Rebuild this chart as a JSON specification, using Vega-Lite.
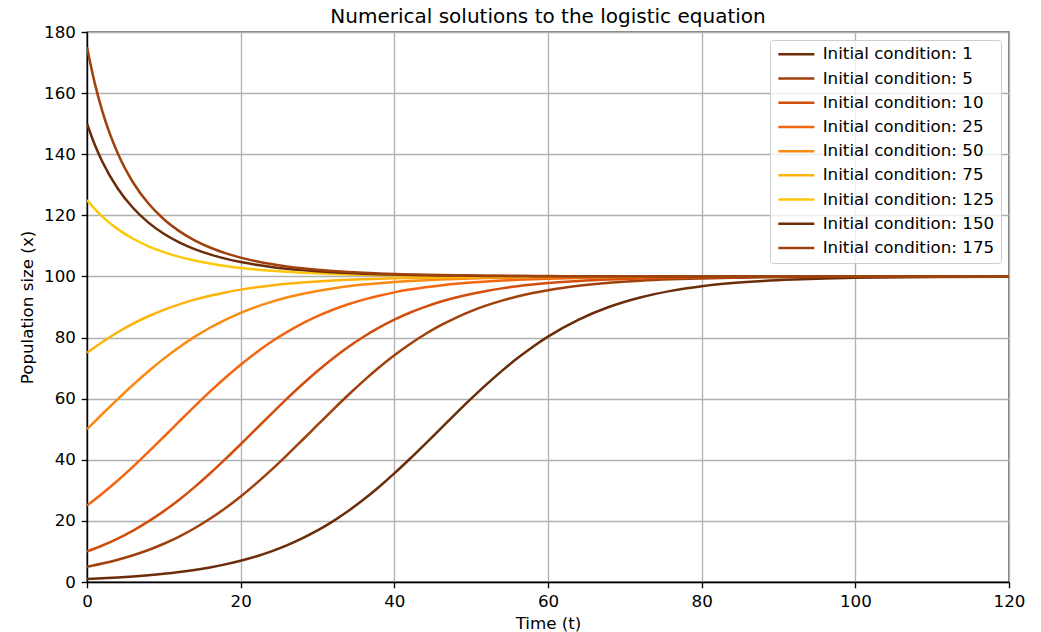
{
  "$schema": "https://vega.github.io/schema/vega-lite/v6.json",
  "width": 922,
  "height": 550,
  "autosize": {"type": "none"},
  "padding": {"left": 87, "top": 32, "right": 32, "bottom": 50},
  "title": {
    "text": "Numerical solutions to the logistic equation",
    "font": "DejaVu Sans",
    "fontSize": 20,
    "fontWeight": "normal",
    "color": "black",
    "offset": -3
  },
  "data": {
    "values": [
      {"ic":1,"t":0,"x":1},{"ic":1,"t":2,"x":1.219},{"ic":1,"t":4,"x":1.484},{"ic":1,"t":6,"x":1.807},{"ic":1,"t":8,"x":2.199},{"ic":1,"t":10,"x":2.672},{"ic":1,"t":12,"x":3.245},{"ic":1,"t":14,"x":3.935},{"ic":1,"t":16,"x":4.765},{"ic":1,"t":18,"x":5.759},{"ic":1,"t":20,"x":6.945},{"ic":1,"t":22,"x":8.355},{"ic":1,"t":24,"x":10.019},{"ic":1,"t":26,"x":11.972},{"ic":1,"t":28,"x":14.245},{"ic":1,"t":30,"x":16.866},{"ic":1,"t":32,"x":19.859},{"ic":1,"t":34,"x":23.235},{"ic":1,"t":36,"x":26.99},{"ic":1,"t":38,"x":31.107},{"ic":1,"t":40,"x":35.546},{"ic":1,"t":42,"x":40.248},{"ic":1,"t":44,"x":45.138},{"ic":1,"t":46,"x":50.122},{"ic":1,"t":48,"x":55.103},{"ic":1,"t":50,"x":59.986},{"ic":1,"t":52,"x":64.675},{"ic":1,"t":54,"x":69.1},{"ic":1,"t":56,"x":73.201},{"ic":1,"t":58,"x":76.936},{"ic":1,"t":60,"x":80.294},{"ic":1,"t":64,"x":85.874},{"ic":1,"t":68,"x":90.069},{"ic":1,"t":72,"x":93.118},{"ic":1,"t":76,"x":95.28},{"ic":1,"t":80,"x":96.786},{"ic":1,"t":84,"x":97.822},{"ic":1,"t":88,"x":98.53},{"ic":1,"t":92,"x":99.01},{"ic":1,"t":96,"x":99.334},{"ic":1,"t":100,"x":99.552},{"ic":1,"t":110,"x":99.835},{"ic":1,"t":120,"x":99.939},

      {"ic":5,"t":0,"x":5},{"ic":5,"t":2,"x":6.04},{"ic":5,"t":4,"x":7.28},{"ic":5,"t":6,"x":8.751},{"ic":5,"t":8,"x":10.485},{"ic":5,"t":10,"x":12.516},{"ic":5,"t":12,"x":14.875},{"ic":5,"t":14,"x":17.589},{"ic":5,"t":16,"x":20.678},{"ic":5,"t":18,"x":24.151},{"ic":5,"t":20,"x":28},{"ic":5,"t":22,"x":32.204},{"ic":5,"t":24,"x":36.716},{"ic":5,"t":26,"x":41.473},{"ic":5,"t":28,"x":46.395},{"ic":5,"t":30,"x":51.389},{"ic":5,"t":32,"x":56.355},{"ic":5,"t":34,"x":61.196},{"ic":5,"t":36,"x":65.826},{"ic":5,"t":38,"x":70.173},{"ic":5,"t":40,"x":74.184},{"ic":5,"t":42,"x":77.825},{"ic":5,"t":44,"x":81.086},{"ic":5,"t":46,"x":83.964},{"ic":5,"t":48,"x":86.477},{"ic":5,"t":50,"x":88.65},{"ic":5,"t":52,"x":90.513},{"ic":5,"t":54,"x":92.096},{"ic":5,"t":56,"x":93.435},{"ic":5,"t":58,"x":94.56},{"ic":5,"t":60,"x":95.502},{"ic":5,"t":64,"x":96.939},{"ic":5,"t":68,"x":97.928},{"ic":5,"t":72,"x":98.601},{"ic":5,"t":76,"x":99.058},{"ic":5,"t":80,"x":99.367},{"ic":5,"t":84,"x":99.575},{"ic":5,"t":88,"x":99.714},{"ic":5,"t":92,"x":99.808},{"ic":5,"t":96,"x":99.871},{"ic":5,"t":100,"x":99.914},{"ic":5,"t":110,"x":99.968},{"ic":5,"t":120,"x":99.988},

      {"ic":10,"t":0,"x":10},{"ic":10,"t":2,"x":11.949},{"ic":10,"t":4,"x":14.219},{"ic":10,"t":6,"x":16.837},{"ic":10,"t":8,"x":19.826},{"ic":10,"t":10,"x":23.197},{"ic":10,"t":12,"x":26.949},{"ic":10,"t":14,"x":31.062},{"ic":10,"t":16,"x":35.498},{"ic":10,"t":18,"x":40.198},{"ic":10,"t":20,"x":45.085},{"ic":10,"t":22,"x":50.069},{"ic":10,"t":24,"x":55.052},{"ic":10,"t":26,"x":59.937},{"ic":10,"t":28,"x":64.629},{"ic":10,"t":30,"x":69.056},{"ic":10,"t":32,"x":73.16},{"ic":10,"t":34,"x":76.902},{"ic":10,"t":36,"x":80.263},{"ic":10,"t":38,"x":83.24},{"ic":10,"t":40,"x":85.849},{"ic":10,"t":42,"x":88.112},{"ic":10,"t":44,"x":90.05},{"ic":10,"t":46,"x":91.704},{"ic":10,"t":48,"x":93.104},{"ic":10,"t":50,"x":94.282},{"ic":10,"t":52,"x":95.27},{"ic":10,"t":54,"x":96.093},{"ic":10,"t":56,"x":96.779},{"ic":10,"t":58,"x":97.347},{"ic":10,"t":60,"x":97.818},{"ic":10,"t":64,"x":98.527},{"ic":10,"t":68,"x":99.008},{"ic":10,"t":72,"x":99.333},{"ic":10,"t":76,"x":99.552},{"ic":10,"t":80,"x":99.699},{"ic":10,"t":84,"x":99.798},{"ic":10,"t":88,"x":99.864},{"ic":10,"t":92,"x":99.909},{"ic":10,"t":96,"x":99.939},{"ic":10,"t":100,"x":99.959},{"ic":10,"t":110,"x":99.985},{"ic":10,"t":120,"x":99.994},

      {"ic":25,"t":0,"x":25},{"ic":25,"t":2,"x":28.934},{"ic":25,"t":4,"x":33.212},{"ic":25,"t":6,"x":37.787},{"ic":25,"t":8,"x":42.59},{"ic":25,"t":10,"x":47.537},{"ic":25,"t":12,"x":52.533},{"ic":25,"t":14,"x":57.478},{"ic":25,"t":16,"x":62.278},{"ic":25,"t":18,"x":66.849},{"ic":25,"t":20,"x":71.123},{"ic":25,"t":22,"x":75.053},{"ic":25,"t":24,"x":78.607},{"ic":25,"t":26,"x":81.779},{"ic":25,"t":28,"x":84.572},{"ic":25,"t":30,"x":87.004},{"ic":25,"t":32,"x":89.101},{"ic":25,"t":34,"x":90.899},{"ic":25,"t":36,"x":92.424},{"ic":25,"t":38,"x":93.711},{"ic":25,"t":40,"x":94.791},{"ic":25,"t":42,"x":95.695},{"ic":25,"t":44,"x":96.448},{"ic":25,"t":46,"x":97.073},{"ic":25,"t":48,"x":97.591},{"ic":25,"t":50,"x":98.019},{"ic":25,"t":52,"x":98.372},{"ic":25,"t":54,"x":98.663},{"ic":25,"t":56,"x":98.903},{"ic":25,"t":58,"x":99.1},{"ic":25,"t":60,"x":99.262},{"ic":25,"t":64,"x":99.504},{"ic":25,"t":68,"x":99.667},{"ic":25,"t":72,"x":99.777},{"ic":25,"t":76,"x":99.85},{"ic":25,"t":80,"x":99.899},{"ic":25,"t":84,"x":99.933},{"ic":25,"t":88,"x":99.955},{"ic":25,"t":92,"x":99.97},{"ic":25,"t":96,"x":99.98},{"ic":25,"t":100,"x":99.986},{"ic":25,"t":110,"x":99.995},{"ic":25,"t":120,"x":99.998},

      {"ic":50,"t":0,"x":50},{"ic":50,"t":2,"x":54.983},{"ic":50,"t":4,"x":59.869},{"ic":50,"t":6,"x":64.566},{"ic":50,"t":8,"x":68.997},{"ic":50,"t":10,"x":73.106},{"ic":50,"t":12,"x":76.852},{"ic":50,"t":14,"x":80.218},{"ic":50,"t":16,"x":83.202},{"ic":50,"t":18,"x":85.815},{"ic":50,"t":20,"x":88.08},{"ic":50,"t":22,"x":90.025},{"ic":50,"t":24,"x":91.683},{"ic":50,"t":26,"x":93.086},{"ic":50,"t":28,"x":94.268},{"ic":50,"t":30,"x":95.257},{"ic":50,"t":32,"x":96.083},{"ic":50,"t":34,"x":96.77},{"ic":50,"t":36,"x":97.34},{"ic":50,"t":38,"x":97.812},{"ic":50,"t":40,"x":98.201},{"ic":50,"t":42,"x":98.522},{"ic":50,"t":44,"x":98.787},{"ic":50,"t":46,"x":99.005},{"ic":50,"t":48,"x":99.184},{"ic":50,"t":50,"x":99.331},{"ic":50,"t":52,"x":99.451},{"ic":50,"t":54,"x":99.55},{"ic":50,"t":56,"x":99.632},{"ic":50,"t":58,"x":99.698},{"ic":50,"t":60,"x":99.753},{"ic":50,"t":64,"x":99.834},{"ic":50,"t":68,"x":99.889},{"ic":50,"t":72,"x":99.925},{"ic":50,"t":76,"x":99.95},{"ic":50,"t":80,"x":99.966},{"ic":50,"t":84,"x":99.978},{"ic":50,"t":88,"x":99.985},{"ic":50,"t":92,"x":99.99},{"ic":50,"t":96,"x":99.993},{"ic":50,"t":100,"x":99.995},{"ic":50,"t":110,"x":99.998},{"ic":50,"t":120,"x":99.999},

      {"ic":75,"t":0,"x":75},{"ic":75,"t":2,"x":78.56},{"ic":75,"t":4,"x":81.737},{"ic":75,"t":6,"x":84.536},{"ic":75,"t":8,"x":86.974},{"ic":75,"t":10,"x":89.074},{"ic":75,"t":12,"x":90.877},{"ic":75,"t":14,"x":92.406},{"ic":75,"t":16,"x":93.695},{"ic":75,"t":18,"x":94.778},{"ic":75,"t":20,"x":95.684},{"ic":75,"t":22,"x":96.438},{"ic":75,"t":24,"x":97.064},{"ic":75,"t":26,"x":97.584},{"ic":75,"t":28,"x":98.013},{"ic":75,"t":30,"x":98.367},{"ic":75,"t":32,"x":98.659},{"ic":75,"t":34,"x":98.9},{"ic":75,"t":36,"x":99.097},{"ic":75,"t":38,"x":99.26},{"ic":75,"t":40,"x":99.393},{"ic":75,"t":42,"x":99.503},{"ic":75,"t":44,"x":99.592},{"ic":75,"t":46,"x":99.666},{"ic":75,"t":48,"x":99.726},{"ic":75,"t":50,"x":99.776},{"ic":75,"t":52,"x":99.816},{"ic":75,"t":54,"x":99.85},{"ic":75,"t":56,"x":99.877},{"ic":75,"t":58,"x":99.899},{"ic":75,"t":60,"x":99.917},{"ic":75,"t":64,"x":99.945},{"ic":75,"t":68,"x":99.963},{"ic":75,"t":72,"x":99.975},{"ic":75,"t":76,"x":99.983},{"ic":75,"t":80,"x":99.989},{"ic":75,"t":84,"x":99.993},{"ic":75,"t":88,"x":99.995},{"ic":75,"t":92,"x":99.997},{"ic":75,"t":96,"x":99.998},{"ic":75,"t":100,"x":99.998},{"ic":75,"t":110,"x":99.999},{"ic":75,"t":120,"x":100},

      {"ic":125,"t":0,"x":125},{"ic":125,"t":1,"x":122.095},{"ic":125,"t":2,"x":119.581},{"ic":125,"t":4,"x":115.482},{"ic":125,"t":6,"x":112.33},{"ic":125,"t":8,"x":109.874},{"ic":125,"t":10,"x":107.942},{"ic":125,"t":12,"x":106.41},{"ic":125,"t":14,"x":105.188},{"ic":125,"t":16,"x":104.208},{"ic":125,"t":18,"x":103.419},{"ic":125,"t":20,"x":102.782},{"ic":125,"t":22,"x":102.266},{"ic":125,"t":24,"x":101.848},{"ic":125,"t":26,"x":101.508},{"ic":125,"t":28,"x":101.231},{"ic":125,"t":30,"x":101.006},{"ic":125,"t":32,"x":100.822},{"ic":125,"t":34,"x":100.672},{"ic":125,"t":36,"x":100.55},{"ic":125,"t":38,"x":100.449},{"ic":125,"t":40,"x":100.368},{"ic":125,"t":42,"x":100.301},{"ic":125,"t":44,"x":100.246},{"ic":125,"t":46,"x":100.201},{"ic":125,"t":48,"x":100.165},{"ic":125,"t":50,"x":100.135},{"ic":125,"t":52,"x":100.11},{"ic":125,"t":54,"x":100.09},{"ic":125,"t":56,"x":100.074},{"ic":125,"t":58,"x":100.061},{"ic":125,"t":60,"x":100.05},{"ic":125,"t":64,"x":100.033},{"ic":125,"t":68,"x":100.022},{"ic":125,"t":72,"x":100.015},{"ic":125,"t":76,"x":100.01},{"ic":125,"t":80,"x":100.007},{"ic":125,"t":84,"x":100.004},{"ic":125,"t":88,"x":100.003},{"ic":125,"t":92,"x":100.002},{"ic":125,"t":96,"x":100.001},{"ic":125,"t":100,"x":100.001},{"ic":125,"t":110,"x":100},{"ic":125,"t":120,"x":100},

      {"ic":150,"t":0,"x":150},{"ic":150,"t":1,"x":143.187},{"ic":150,"t":2,"x":137.535},{"ic":150,"t":4,"x":128.773},{"ic":150,"t":6,"x":122.39},{"ic":150,"t":8,"x":117.616},{"ic":150,"t":10,"x":113.976},{"ic":150,"t":12,"x":111.16},{"ic":150,"t":14,"x":108.956},{"ic":150,"t":16,"x":107.215},{"ic":150,"t":18,"x":105.831},{"ic":150,"t":20,"x":104.724},{"ic":150,"t":22,"x":103.835},{"ic":150,"t":24,"x":103.118},{"ic":150,"t":26,"x":102.539},{"ic":150,"t":28,"x":102.069},{"ic":150,"t":30,"x":101.688},{"ic":150,"t":32,"x":101.377},{"ic":150,"t":34,"x":101.125},{"ic":150,"t":36,"x":100.919},{"ic":150,"t":38,"x":100.751},{"ic":150,"t":40,"x":100.614},{"ic":150,"t":42,"x":100.502},{"ic":150,"t":44,"x":100.411},{"ic":150,"t":46,"x":100.336},{"ic":150,"t":48,"x":100.275},{"ic":150,"t":50,"x":100.225},{"ic":150,"t":52,"x":100.184},{"ic":150,"t":54,"x":100.151},{"ic":150,"t":56,"x":100.123},{"ic":150,"t":58,"x":100.101},{"ic":150,"t":60,"x":100.083},{"ic":150,"t":64,"x":100.055},{"ic":150,"t":68,"x":100.037},{"ic":150,"t":72,"x":100.025},{"ic":150,"t":76,"x":100.017},{"ic":150,"t":80,"x":100.011},{"ic":150,"t":84,"x":100.008},{"ic":150,"t":88,"x":100.005},{"ic":150,"t":92,"x":100.003},{"ic":150,"t":96,"x":100.002},{"ic":150,"t":100,"x":100.002},{"ic":150,"t":110,"x":100.001},{"ic":150,"t":120,"x":100},

      {"ic":175,"t":0,"x":175},{"ic":175,"t":1,"x":163.342},{"ic":175,"t":2,"x":154.056},{"ic":175,"t":4,"x":140.308},{"ic":175,"t":6,"x":130.754},{"ic":175,"t":8,"x":123.85},{"ic":175,"t":10,"x":118.717},{"ic":175,"t":12,"x":114.822},{"ic":175,"t":14,"x":111.817},{"ic":175,"t":16,"x":109.472},{"ic":175,"t":18,"x":107.624},{"ic":175,"t":20,"x":106.157},{"ic":175,"t":22,"x":104.985},{"ic":175,"t":24,"x":104.045},{"ic":175,"t":26,"x":103.288},{"ic":175,"t":28,"x":102.676},{"ic":175,"t":30,"x":102.18},{"ic":175,"t":32,"x":101.778},{"ic":175,"t":34,"x":101.451},{"ic":175,"t":36,"x":101.185},{"ic":175,"t":38,"x":100.968},{"ic":175,"t":40,"x":100.791},{"ic":175,"t":42,"x":100.647},{"ic":175,"t":44,"x":100.529},{"ic":175,"t":46,"x":100.433},{"ic":175,"t":48,"x":100.354},{"ic":175,"t":50,"x":100.29},{"ic":175,"t":52,"x":100.237},{"ic":175,"t":54,"x":100.194},{"ic":175,"t":56,"x":100.159},{"ic":175,"t":58,"x":100.13},{"ic":175,"t":60,"x":100.106},{"ic":175,"t":64,"x":100.071},{"ic":175,"t":68,"x":100.048},{"ic":175,"t":72,"x":100.032},{"ic":175,"t":76,"x":100.021},{"ic":175,"t":80,"x":100.014},{"ic":175,"t":84,"x":100.01},{"ic":175,"t":88,"x":100.006},{"ic":175,"t":92,"x":100.004},{"ic":175,"t":96,"x":100.003},{"ic":175,"t":100,"x":100.002},{"ic":175,"t":110,"x":100.001},{"ic":175,"t":120,"x":100}
    ]
  },
  "mark": {"type": "line", "strokeWidth": 2.5, "interpolate": "monotone", "clip": true},
  "encoding": {
    "x": {
      "field": "t",
      "type": "quantitative",
      "scale": {"domain": [0, 120], "nice": false},
      "axis": {"values": [0, 20, 40, 60, 80, 100, 120], "title": "Time (t)", "titlePadding": 5}
    },
    "y": {
      "field": "x",
      "type": "quantitative",
      "scale": {"domain": [0, 180], "nice": false, "zero": false},
      "axis": {"values": [0, 20, 40, 60, 80, 100, 120, 140, 160, 180], "title": "Population size (x)", "titlePadding": 7}
    },
    "color": {
      "field": "ic",
      "type": "nominal",
      "scale": {
        "domain": [1, 5, 10, 25, 50, 75, 125, 150, 175],
        "range": ["#6b2c0a", "#a0400c", "#d14e0c", "#f26511", "#fa8a12", "#fdb20c", "#fcc90a", "#6b2c0a", "#a0400c"]
      },
      "legend": {
        "title": null,
        "orient": "top-right",
        "offset": 8,
        "labelExpr": "'Initial condition: ' + datum.label",
        "symbolType": "M-1,0H5",
        "symbolSize": 144,
        "symbolStrokeWidth": 2.5,
        "labelOffset": 30,
        "labelFont": "DejaVu Sans",
        "labelFontSize": 16.7,
        "labelColor": "black",
        "labelLimit": 400,
        "rowPadding": 6.2,
        "padding": 6,
        "fillColor": "rgba(255,255,255,0.8)",
        "strokeColor": "#cccccc",
        "cornerRadius": 3
      }
    }
  },
  "config": {
    "font": "DejaVu Sans",
    "view": {"stroke": "black", "strokeWidth": 1.33},
    "axis": {
      "labelFont": "DejaVu Sans",
      "labelFontSize": 16.7,
      "labelColor": "black",
      "labelPadding": 5.8,
      "labelFlush": false,
      "labelOverlap": false,
      "titleFont": "DejaVu Sans",
      "titleFontSize": 16.7,
      "titleFontWeight": "normal",
      "titleColor": "black",
      "domainColor": "black",
      "domainWidth": 1.33,
      "tickColor": "black",
      "tickWidth": 1.33,
      "tickSize": 5.8,
      "gridColor": "#b0b0b0",
      "gridWidth": 1.33,
      "gridOpacity": 1
    }
  }
}
